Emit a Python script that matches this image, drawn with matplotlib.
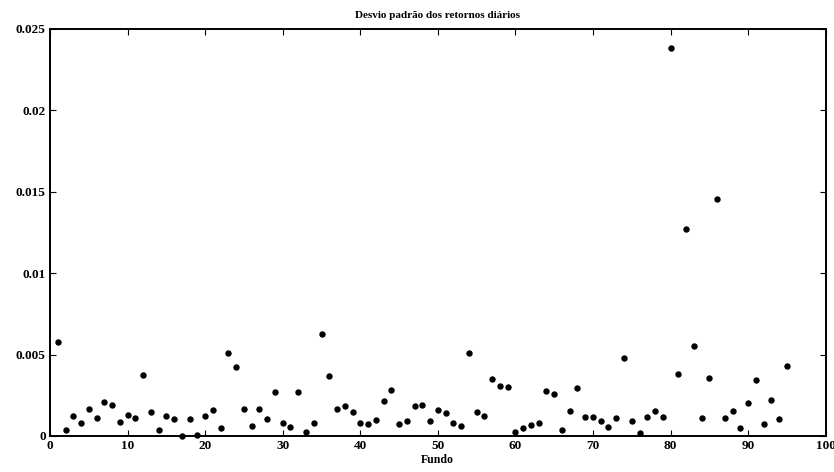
import numpy as np
import matplotlib
matplotlib.use("Agg")
import matplotlib.pyplot as plt
from matplotlib.ticker import FixedLocator, FixedFormatter

# desvio padrao por fundo
fundos = list(range(1, 96))
desvios = [
    0.00579, 0.00039, 0.00125, 0.00078, 0.00166, 0.00111, 0.00211, 0.00190, 0.00084, 0.00127,
    0.00111, 0.00373, 0.00145, 0.00035, 0.00123, 0.00102, 0.00002, 0.00106, 0.00006, 0.00121,
    0.00162, 0.00049, 0.00510, 0.00422, 0.00168, 0.00061, 0.00166, 0.00104, 0.00272, 0.00080,
    0.00055, 0.00272, 0.00023, 0.00080, 0.00625, 0.00369, 0.00168, 0.00186, 0.00149, 0.00080,
    0.00072, 0.00098, 0.00217, 0.00285, 0.00072, 0.00092, 0.00184, 0.00188, 0.00094, 0.00160,
    0.00139, 0.00082, 0.00063, 0.00512, 0.00149, 0.00123, 0.00348, 0.00305, 0.00299, 0.00025,
    0.00049, 0.00066, 0.00080, 0.00274, 0.00260, 0.00035, 0.00154, 0.00297, 0.00115, 0.00115,
    0.00092, 0.00053, 0.00109, 0.00477, 0.00090, 0.00016, 0.00115, 0.00154, 0.00119, 0.02385,
    0.00383, 0.01273, 0.00555, 0.00109, 0.00356, 0.01454, 0.00113, 0.00151, 0.00047, 0.00201,
    0.00342, 0.00076, 0.00221, 0.00102, 0.00430,
]

xticks = [0, 10, 20, 30, 40, 50, 60, 70, 80, 90, 100]
yticks = [0, 0.005, 0.01, 0.015, 0.02, 0.025]
ytick_labels = ["0", "0.005", "0.01", "0.015", "0.02", "0.025"]

plt.rcParams['font.family'] = ['Liberation Serif', 'DejaVu Serif']
plt.rcParams['font.weight'] = 'bold'

fig = plt.figure(figsize=(8.34, 4.72), dpi=100)
ax = fig.add_axes([0.06, 0.0763, 0.93, 0.8623])

ax.plot(fundos, desvios, linestyle='none', marker='o', markersize=4.6,
        color='black', markeredgewidth=0, clip_on=False, zorder=3)

ax.set_xlim(0, 100)
ax.set_ylim(0, 0.025)
ax.xaxis.set_major_locator(FixedLocator(xticks))
ax.xaxis.set_major_formatter(FixedFormatter([str(t) for t in xticks]))
ax.yaxis.set_major_locator(FixedLocator(yticks))
ax.yaxis.set_major_formatter(FixedFormatter(ytick_labels))

ax.tick_params(direction='in', top=True, right=True, length=4, width=0.8,
               labelsize=9.5, pad=3)
for lab in ax.get_xticklabels() + ax.get_yticklabels():
    lab.set_fontweight('bold')
for s in ax.spines.values():
    s.set_linewidth(1.4)

ax.set_title("Desvio padrão dos retornos diários", fontsize=8, fontweight='bold', pad=8)
ax.set_xlabel("Fundo", fontsize=8.5, fontweight='bold', labelpad=1)

fig.savefig("out.png", dpi=100)
